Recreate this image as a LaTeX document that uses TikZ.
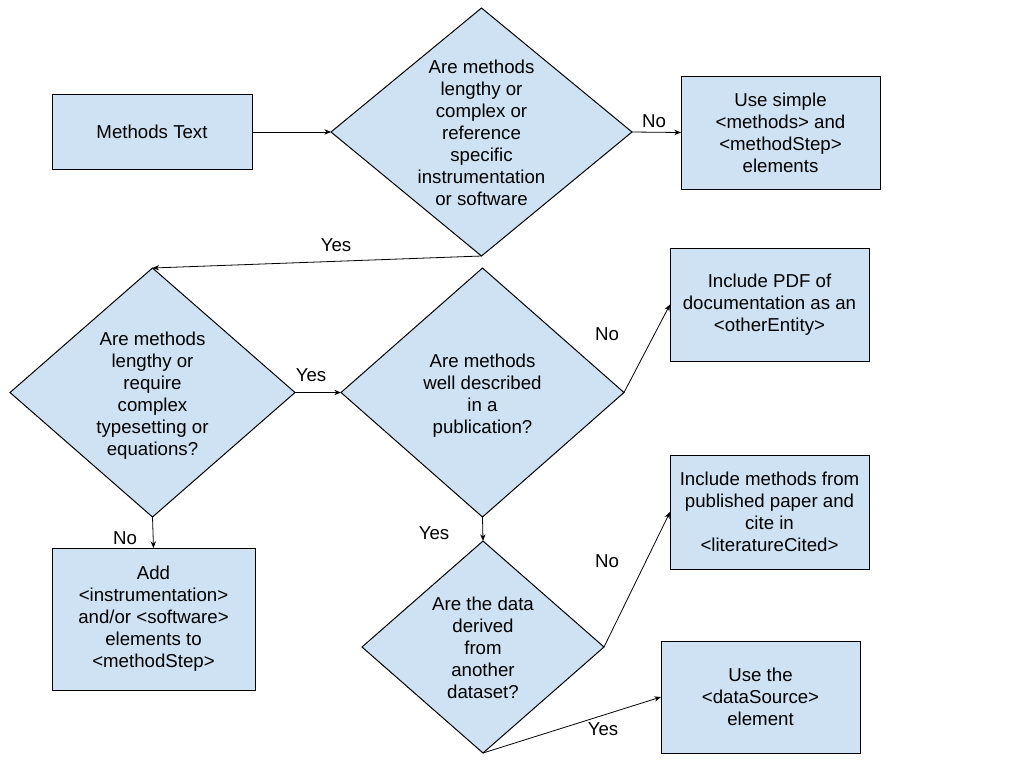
\documentclass[tikz,border=0pt]{standalone}
\usepackage{fontspec}
\setmainfont{Liberation Sans}
\usetikzlibrary{shapes.geometric,arrows.meta}
\definecolor{boxblue}{HTML}{CFE2F3}
\newcommand{\dtext}[1]{\makebox[0pt]{\raisebox{-12pt}{\smash{\begin{tabular}{@{}c@{}}#1\end{tabular}}}}}
\tikzset{
  box/.style={draw=black,fill=boxblue,line width=0.75pt,inner sep=0pt,outer sep=0pt,align=center},
  dia/.style={diamond,draw=black,fill=boxblue,line width=0.75pt,inner sep=0pt,outer sep=0pt,aspect=1},
  lbl/.style={inner sep=0pt},
  conn/.style={-{Stealth[length=5pt,width=4pt]},line width=0.6pt}
}
\begin{document}
\begin{tikzpicture}[x=0.75pt,y=-0.75pt,font=\fontsize{14}{16.5}\selectfont]
            \useasboundingbox (0,0) rectangle (1024,768);

            \node[box,minimum width=150pt,minimum height=56.25pt] (mtext) at (152,132) {Methods Text};
            \node[dia,minimum width=225.75pt,minimum height=186pt] (d1) at (481.5,132) {\dtext{Are methods\\lengthy or\\complex or\\reference\\specific\\instrumentation\\or software}};
            \node[box,minimum width=149.25pt,minimum height=84.75pt] (simple) at (780.5,132.5) {Use simple\\<methods> and\\<methodStep>\\elements};
            \node[dia,minimum width=213.75pt,minimum height=186.75pt] (d2) at (152.5,392.5) {\dtext{Are methods\\lengthy or\\require\\complex\\typesetting or\\equations?}};
            \node[dia,minimum width=212.25pt,minimum height=186.75pt] (d3) at (482.5,392.5) {\dtext{Are methods\\well described\\in a\\publication?}};
            \node[box,minimum width=152.25pt,minimum height=106.5pt] (addel) at (153.5,619) {Add\\<instrumentation>\\and/or <software>\\elements to\\<methodStep>};
            \node[box,minimum width=149.25pt,minimum height=84.75pt] (pdf) at (769.5,304.5) {Include PDF of\\documentation as an\\<otherEntity>};
            \node[dia,minimum width=181.5pt,minimum height=159pt] (d4) at (483,647) {\dtext{Are the data\\derived\\from\\another\\dataset?}};
            \node[box,minimum width=149.25pt,minimum height=85.5pt] (lit) at (769.5,512) {Include methods from\\published paper and\\cite in\\<literatureCited>};
            \node[box,minimum width=149.25pt,minimum height=84pt] (dsrc) at (760.5,697) {Use the\\<dataSource>\\element};

            \draw[conn] (mtext.east) -- (d1.west);
            \draw[conn] (d1.east) -- (simple.west);
            \draw[conn] (d1.south) -- (d2.north);
            \draw[conn] (d2.south) -- (addel.north);
            \draw[conn] (d2.east) -- (d3.west);
            \draw[conn] (d3.east) -- (pdf.west);
            \draw[conn] (d3.south) -- (d4.north);
            \draw[conn] (d4.east) -- (lit.west);
            \draw[conn] (d4.south) -- (dsrc.west);

            \node[lbl] (no1) at (654,121) {No};
            \node[lbl] (yes1) at (336,245) {Yes};
            \node[lbl] (no2) at (125,538) {No};
            \node[lbl] (yes2) at (311,375) {Yes};
            \node[lbl] (no3) at (607,334) {No};
            \node[lbl] (yes3) at (434,533) {Yes};
            \node[lbl] (no4) at (607,561) {No};
            \node[lbl] (yes4) at (603,729) {Yes};
            \end{tikzpicture}
\end{document}
